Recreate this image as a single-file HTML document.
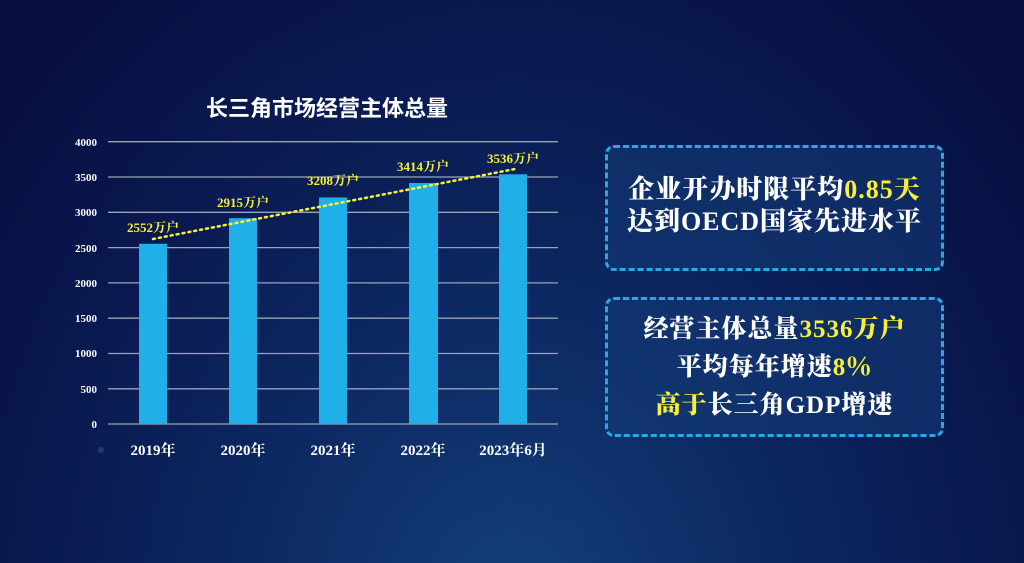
<!DOCTYPE html>
<html><head><meta charset="utf-8"><style>
html,body{margin:0;padding:0}
body{width:1024px;height:563px;overflow:hidden;position:relative;
background:radial-gradient(ellipse at 50% 110%,#14407a 0%,#0c2660 40%,#09154a 75%,#070d3c 100%);
font-family:"Liberation Serif","Noto Serif CJK SC",serif;}
.box{position:absolute;left:605px;width:339px;border:3px dashed #2aa8e6;border-radius:9px;
background:rgba(20,60,120,0.55);color:#fff;font-weight:900;text-align:center;white-space:nowrap;
font-family:"Liberation Serif","Noto Serif CJK SC",serif;}
.y{color:#f6f03a}
</style></head><body>
<svg width="1024" height="563" style="position:absolute;left:0;top:0">
<text x="327" y="116" fill="#fff" font-size="22" font-weight="bold" text-anchor="middle" font-family="Liberation Sans,Noto Sans CJK SC,sans-serif">长三角市场经营主体总量</text>
<g stroke="#9aa3b8" stroke-width="1.3">
<line x1="108" x2="558" y1="141.7" y2="141.7"/><line x1="108" x2="558" y1="177" y2="177"/>
<line x1="108" x2="558" y1="212.3" y2="212.3"/><line x1="108" x2="558" y1="247.6" y2="247.6"/>
<line x1="108" x2="558" y1="282.9" y2="282.9"/><line x1="108" x2="558" y1="318.2" y2="318.2"/>
<line x1="108" x2="558" y1="353.5" y2="353.5"/><line x1="108" x2="558" y1="388.8" y2="388.8"/>
<line x1="108" x2="558" y1="424" y2="424"/></g>
<g fill="#fff" font-size="11" font-weight="bold" text-anchor="end">
<text x="97" y="146">4000</text><text x="97" y="181">3500</text><text x="97" y="216">3000</text>
<text x="97" y="252">2500</text><text x="97" y="287">2000</text><text x="97" y="322">1500</text>
<text x="97" y="357">1000</text><text x="97" y="393">500</text><text x="97" y="428">0</text></g>
<g fill="#1fb0ea">
<rect x="139" y="243.8" width="28" height="180.2"/>
<rect x="229" y="218.2" width="28" height="205.8"/>
<rect x="319" y="197.5" width="28" height="226.5"/>
<rect x="409" y="183" width="29" height="241"/>
<rect x="499" y="174.3" width="28" height="249.7"/></g>
<line x1="153" y1="239" x2="515" y2="169" stroke="#f6f03a" stroke-width="2.5" stroke-dasharray="2,4" stroke-linecap="round"/>
<g fill="#f6f03a" font-size="13" font-weight="bold" text-anchor="middle">
<text x="153" y="232">2552万户</text><text x="243" y="207">2915万户</text>
<text x="333" y="185">3208万户</text><text x="423" y="171">3414万户</text><text x="513" y="163">3536万户</text></g>
<g fill="#fff" font-size="15" font-weight="bold" text-anchor="middle">
<text x="153" y="455">2019年</text><text x="243" y="455">2020年</text><text x="333" y="455">2021年</text>
<text x="423" y="455">2022年</text><text x="513" y="455">2023年6月</text></g>
<circle cx="101" cy="450" r="3" fill="#1b3a78"/>
</svg>
<div class="box" style="top:145px;font-size:26px;line-height:32px;padding-top:26px;box-sizing:border-box;height:126px;letter-spacing:1px">
企业开办时限平均<span class="y">0.85天</span><br>达到OECD国家先进水平</div>
<div class="box" style="top:297px;height:140px;box-sizing:border-box;font-size:25px;line-height:38px;padding-top:11px;letter-spacing:1px">
经营主体总量<span class="y">3536万户</span><br>平均每年增速<span class="y">8％</span><br><span class="y">高于</span>长三角GDP增速</div>
</body></html>
